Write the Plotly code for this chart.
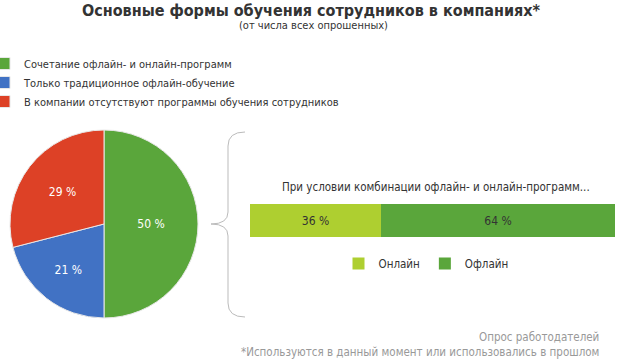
import plotly.graph_objects as go

W, H = 617, 359

title = "Основные формы обучения сотрудников в компаниях*"
subtitle = "(от числа всех опрошенных)"
pie_labels = ["Сочетание офлайн- и онлайн-программ",
              "Только традиционное офлайн-обучение",
              "В компании отсутствуют программы обучения сотрудников"]
pie_values = [50, 21, 29]
pie_colors = ["#5AA63B", "#4172C4", "#DD4126"]

bar_title = "При условии комбинации офлайн- и онлайн-программ..."
bar_names = ["Онлайн", "Офлайн"]
bar_values = [36, 64]
bar_colors = ["#AECF30", "#5AA63B"]

footer = ["Опрос работодателей",
          "*Используются в данный момент или использовались в прошлом"]

FONT = "Liberation Sans Narrow, DejaVu Sans Condensed, sans-serif"

def px(x):
    return x / W

def py(y):
    return 1 - y / H

fig = go.Figure()

fig.add_trace(go.Pie(
    labels=pie_labels, values=pie_values,
    marker=dict(colors=pie_colors, line=dict(color="#e8e8e8", width=1)),
    sort=False, direction="clockwise", rotation=0,
    texttemplate="%{value} %", textposition="inside",
    insidetextfont=dict(color="white", size=12, family=FONT),
    domain=dict(x=[px(10), px(198)], y=[py(318), py(130)]),
    hoverinfo="label+percent", legend="legend",
))

for name, val, col in zip(bar_names, bar_values, bar_colors):
    fig.add_trace(go.Bar(
        x=[val], y=[0], orientation="h", name=name,
        marker=dict(color=col, line=dict(width=0)),
        text=[f"{val} %"], textposition="inside", insidetextanchor="middle",
        textfont=dict(color="#333333", size=12, family=FONT),
        width=1, xaxis="x", yaxis="y", legend="legend2",
    ))

pts = dict(a=245, b=132, c=228, d=146, e=212, f=224, g=211, h=236, i=303, j=317)
p = {k: (px(v) if k in "acg" else py(v)) for k, v in pts.items()}
path = ("M {a},{b} Q {c},{b} {c},{d} L {c},{e} Q {c},{f} {g},{f} "
        "Q {c},{f} {c},{h} L {c},{i} Q {c},{j} {a},{j}").format(**p)

def ann(text, x, y, size, color="#333333", xanchor="center"):
    return dict(text=text, x=px(x), y=py(y), xref="paper", yref="paper",
                xanchor=xanchor, yanchor="middle", showarrow=False,
                font=dict(size=size, color=color))

fig.update_layout(
    width=W, height=H,
    margin=dict(l=0, r=0, t=0, b=0, autoexpand=False),
    paper_bgcolor="white", plot_bgcolor="white",
    font=dict(family=FONT, size=12, color="#333333"),
    barmode="stack", bargap=0,
    xaxis=dict(domain=[px(250), px(615)], range=[0, 100], visible=False, fixedrange=True),
    yaxis=dict(domain=[py(237), py(204)], range=[-0.5, 0.5], visible=False, fixedrange=True),
    legend=dict(x=px(-16), y=py(49), xanchor="left", yanchor="top",
                orientation="v", font=dict(size=11, color="#333333"),
                tracegroupgap=0, itemclick=False, bgcolor="rgba(0,0,0,0)"),
    legend2=dict(x=px(426), y=py(249), xanchor="center", yanchor="top",
                 orientation="h", traceorder="normal",
                 font=dict(size=11.5, color="#333333"),
                 itemclick=False, bgcolor="rgba(0,0,0,0)"),
    shapes=[dict(type="path", path=path, xref="paper", yref="paper",
                 line=dict(color="#bbbbbb", width=1))],
    annotations=[
        ann(f"<b>{title}</b>", 312, 10, 16),
        ann(subtitle, 313, 25, 11),
        ann(bar_title, 436, 187, 11.5),
        ann(footer[0], 601, 337, 11.5, "#999999", "right"),
        ann(footer[1], 601, 352, 11.5, "#999999", "right"),
    ],
)

fig.write_html("out.html",
               config=dict(displayModeBar=False),
               post_script="document.body.style.margin='0';"
                           "document.documentElement.style.overflow='hidden';")
